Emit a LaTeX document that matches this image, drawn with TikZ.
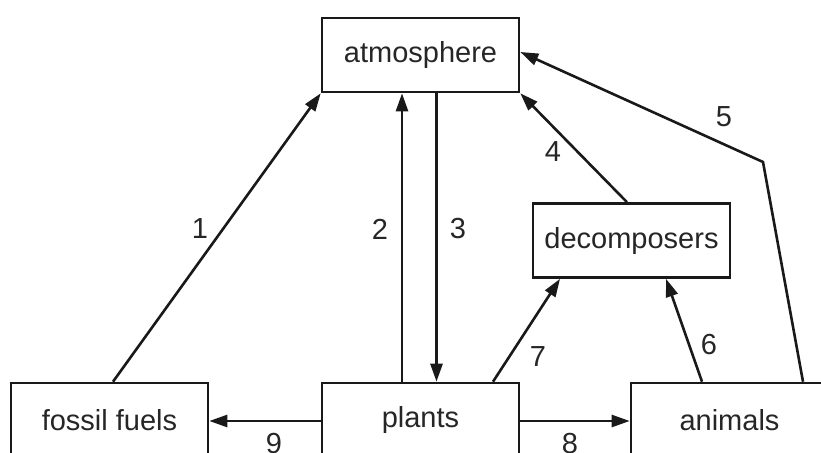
\documentclass[tikz,border=0pt]{standalone}
\usepackage{fontspec}
\setmainfont{Liberation Sans}
\usetikzlibrary{arrows.meta}
\begin{document}
\begin{tikzpicture}[x=1pt,y=1pt,
  box/.style={draw=black!90, line width=2.6pt, minimum width=197pt, minimum height=74pt, inner sep=0pt, font=\fontsize{29}{34}\selectfont, text=black!85},
  conn/.style={line width=2.6pt, draw=black!90, -{Triangle[length=18pt,width=12pt]}},
  lbl/.style={font=\fontsize{29}{34}\selectfont, text=black!85, inner sep=0pt}]
\useasboundingbox (0,0) rectangle (821,-452);
\clip (0,0) rectangle (821,-452);
\node[box] (atm) at (420.5,-55) {atmosphere};
\node[box] (dec) at (631.5,-240.5) {decomposers};
\node[box] (fos) at (109.5,-420) {fossil fuels};
\node[box] (pla) at (420.5,-420) {plants};
\node[box] (ani) at (729.5,-420) {animals};
\coordinate (bend) at (763,-162);
% 1
\draw[conn] ([xshift=3.5pt]fos.north) -- (atm.south west);
% 2
\draw[conn] ([xshift=-18.5pt]pla.north) -- ([xshift=-18.5pt]atm.south);
% 3
\draw[conn] ([xshift=16pt]atm.south) -- ([xshift=16pt]pla.north);
% 4
\draw[conn] ([xshift=-4.5pt]dec.north) -- (atm.south east);
% 5
\draw[conn] ([xshift=73.5pt]ani.north) -- (bend) -- ([yshift=3pt]atm.east);
% 6
\draw[conn] ([xshift=-27.5pt]ani.north) -- ([xshift=34.5pt]dec.south);
% 7
\draw[conn] ([xshift=72.5pt]pla.north) -- ([xshift=-71.5pt]dec.south);
% 8
\draw[conn] ([yshift=-1pt]pla.east) -- ([yshift=-1pt]ani.west);
% 9
\draw[conn] ([yshift=-1pt]pla.west) -- ([yshift=-1pt]fos.east);
\node[lbl] (l1) at (200,-229) {1};
\node[lbl] (l2) at (380,-229) {2};
\node[lbl] (l3) at (458,-229) {3};
\node[lbl] (l4) at (553,-152) {4};
\node[lbl] (l5) at (724,-117) {5};
\node[lbl] (l6) at (709,-345) {6};
\node[lbl] (l7) at (538,-357) {7};
\node[lbl] (l8) at (570,-444) {8};
\node[lbl] (l9) at (274,-444) {9};
\end{tikzpicture}
\end{document}
